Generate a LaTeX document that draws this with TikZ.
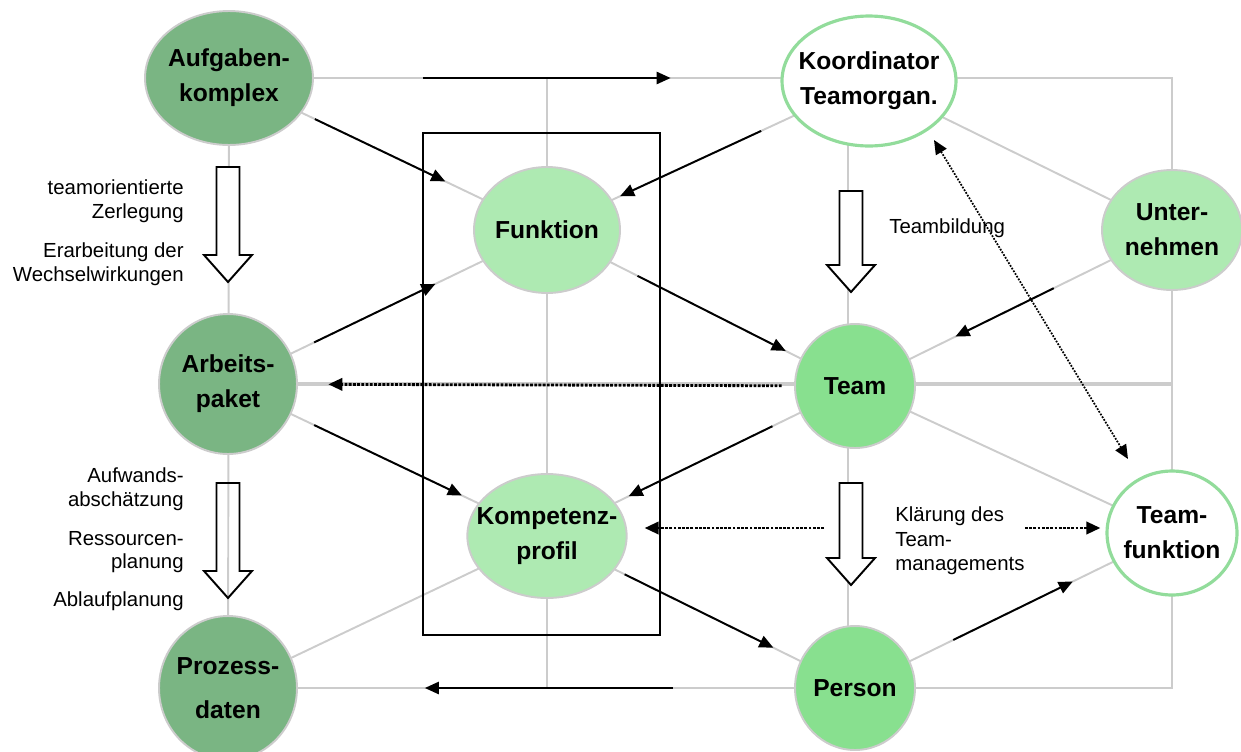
\documentclass[tikz,border=0pt]{standalone}
\usepackage{fontspec}
\setmainfont{Liberation Sans}
\usepackage{tikz}
\usetikzlibrary{positioning,shapes.geometric,arrows.meta,calc,backgrounds}
\usepackage{xcolor}
\definecolor{darkgr}{HTML}{7AB583}
\definecolor{midgr}{HTML}{88E08F}
\definecolor{lightgr}{HTML}{AEEAB2}
\definecolor{ringgr}{HTML}{92DC9B}
\definecolor{linegr}{HTML}{CCCCCC}
\tikzset{
  topic/.style={ellipse, inner sep=-8pt, draw=linegr, line width=1.1pt, align=center,
    font=\fontsize{14}{20}\selectfont\bfseries},
  ring/.style={topic, draw=ringgr, line width=1.8pt, fill=white},
  link/.style={draw=linegr, line width=1.1pt},
  flow/.style={-{Triangle[length=8pt,width=7pt]}, line width=1.1pt},
  hint/.style={-{Triangle[length=8pt,width=7pt]}, line width=1.6pt, dash pattern=on 1.6pt off 0.8pt},
  hintthin/.style={{Triangle[length=8pt,width=7pt]}-{Triangle[length=8pt,width=7pt]}, line width=1pt, dash pattern=on 1pt off 0.8pt},
  note/.style={font=\fontsize{11.6}{13.5}\selectfont, inner sep=0pt},
}
\newcommand{\hollowarrow}[4]{%
  \draw[line width=1.1pt, fill=#4] (#1-11.5,#2) -- (#1+11.5,#2) -- (#1+11.5,#3-27) -- (#1+24,#3-27)
    -- (#1,#3) -- (#1-24,#3-27) -- (#1-11.5,#3-27) -- cycle;}
\begin{document}
\begin{tikzpicture}[x=0.02cm, y=-0.02cm]
            \useasboundingbox (0,0) rectangle (1241,751);
            \node[topic, fill=darkgr, minimum width=3.36cm, minimum height=2.68cm](aufgabe) at (229,78){Aufgaben-\\komplex};
            \node[ring, minimum width=3.48cm, minimum height=2.6cm](koord) at (869,81){Koordinator\\Teamorgan.};
            \node[topic, fill=lightgr, minimum width=2.92cm, minimum height=2.52cm](funktion) at (547,230){Funktion};
            \node[topic, fill=lightgr, minimum width=2.8cm, minimum height=2.4cm](unternehmen) at (1172,230){Unter-\\nehmen};
            \node[topic, fill=darkgr, minimum width=2.76cm, minimum height=2.8cm](paket) at (228,384){Arbeits-\\paket};
            \node[topic, fill=midgr, minimum width=2.4cm, minimum height=2.48cm](team) at (855,386){Team};
            \node[topic, fill=lightgr, minimum width=3.12cm, minimum height=2.48cm](profil) at (547,536){Kompetenz-\\profil};
            \node[ring, minimum width=2.6cm, minimum height=2.48cm](teamfkt) at (1172,533){Team-\\funktion};
            \node[topic, fill=darkgr, minimum width=2.76cm, minimum height=2.88cm,
              font=\fontsize{14}{25}\selectfont\bfseries](prozess) at (228,688){Prozess-\\daten};
            \node[topic, fill=midgr, minimum width=2.4cm, minimum height=2.48cm](person) at (855,688){Person};
            % grey grid behind the nodes
            \begin{scope}[on background layer]
            \draw[link] (aufgabe.center) -- (aufgabe -| unternehmen) -- (unternehmen.center) -- (teamfkt.center)
              |- (person.center) -- (prozess.center) -- (aufgabe.center);
            \draw[link] (funktion |- aufgabe) -- (profil |- prozess);
            \draw[link] ([xshift=-4]team.center |- aufgabe) -- ([xshift=-4]person.center);
            \draw[link, line width=2.2pt] (paket.center) -- (paket -| teamfkt);
            \foreach \a/\b in {aufgabe/funktion, paket/funktion, paket/profil, prozess/profil,
              koord/funktion, funktion/team, koord/unternehmen, unternehmen/team,
              profil/team, team/teamfkt, profil/person, person/teamfkt}
              \draw[link] (\a.center) -- (\b.center);
            \end{scope}
            \draw[line width=1.1pt] (423,133) rectangle (660,635);
            % flows
            \draw[flow] ($(aufgabe.center)!0.303!(aufgabe -| koord)$) -- ($(aufgabe.center)!0.69!(aufgabe -| koord)$);
            \foreach \a/\b/\s/\e in {aufgabe/funktion/0.27/0.68,
              paket/funktion/0.27/0.65, koord/funktion/0.335/0.773, funktion/team/0.294/0.775,
              unternehmen/team/0.373/0.683, paket/profil/0.27/0.733, team/profil/0.268/0.735,
              profil/person/0.252/0.735, person/teamfkt/0.31/0.687, person/prozess/0.291/0.686}
              \draw[flow] ($(\a.center)!\s!(\b.center)$) -- ($(\a.center)!\e!(\b.center)$);
            \draw[hint] ($(team.center)!0.117!(paket.center)$) -- ($(team.center)!0.84!(paket.center)$);
            \draw[hintthin] ($(koord.center)+(65,59)$) -- ($(teamfkt.center)+(-44,-74)$);
            \coordinate (kl1) at (824,528);
            \coordinate (kl2) at (1025,528);
            \draw[hint] (kl1) -- ($(kl1 -| profil.east)+(17,0)$);
            \draw[hint] (kl2) -- ($(kl2 -| teamfkt.west)+(-5,0)$);
            % hollow arrows
            \hollowarrow{228}{167}{282}{white}
            \hollowarrow{228}{483}{598}{none}
            \hollowarrow{851}{191}{292}{white}
            \hollowarrow{851}{483}{585}{white}
            % labels
            \node[note, anchor=east, align=right](zerlegung) at (184,201){teamorientierte\\Zerlegung};
            \node[note, anchor=east, align=right](wechsel) at (184,264){Erarbeitung der\\Wechselwirkungen};
            \node[note, anchor=east, align=right](aufwand) at (184,489){Aufwands-\\abschätzung};
            \node[note, anchor=east, align=right](ressourcen) at (184,552){Ressourcen-\\planung};
            \node[note, anchor=east](ablauf) at (184,601){Ablaufplanung};
            \node[note, anchor=west](teambildung) at (889,228){Teambildung};
            \node[note, anchor=west, align=left, font=\fontsize{11.6}{14}\selectfont](klaerung) at (895,541){Klärung des\\Team-\\managements};
            \end{tikzpicture}
\end{document}
